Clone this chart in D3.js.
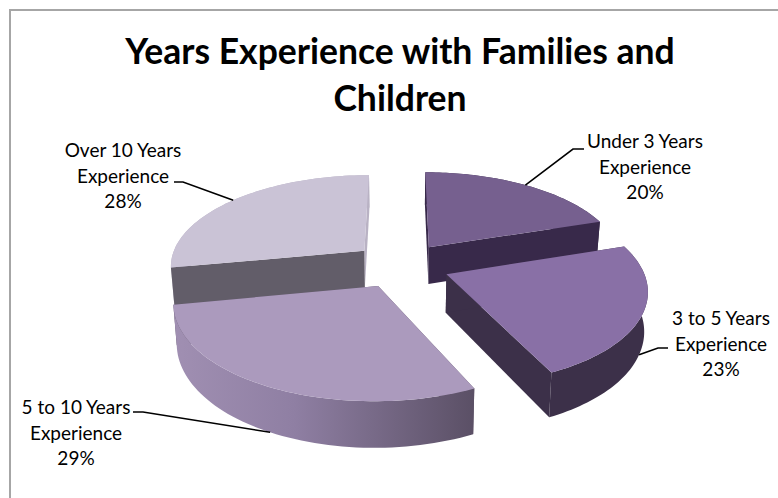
<!DOCTYPE html>
<html>
<head>
<meta charset="utf-8">
<script src="https://cdn.jsdelivr.net/npm/d3@7"></script>
<style>
  html, body { margin: 0; padding: 0; background: #fff; }
  svg { display: block; }
  text { font-family: Lato, "Open Sans", sans-serif; fill: #000; }
</style>
</head>
<body>
<svg id="chart" width="778" height="498"></svg>
<script>
const categories = ["Under 3 Years", "3 to 5 Years", "5 to 10 Years", "Over 10 Years"];
const shares = [20, 23, 29, 28];
const titleLines = ["Years Experience with Families and", "Children"];

const topColors = ["#76608f", "#8970a6", "#ab9abd", "#cac3d6"];
const wallColors = ["#38294a", "#3c3049", "#5f5468", "#625d69"];
const endWallColors = ["#38294a", "#3c3049", "#5f5468", "#b9b2c4"];

// Ground-plane camera: the pie lies on a unit disc, far side shrinks with w,
// and the underside tapers slightly towards the middle.
const centre = { x: 401, y: 265 };
const scaleX = 195, scaleY = 91, depth = 38, persp = 0.15, explode = 0.25, taper = 0.015;

function project(px, py, pz) {
  const w = 1 + persp * py;
  return [centre.x + scaleX * px / w * (1 + taper * pz), centre.y - (scaleY * py + depth * pz) / w];
}

const pie = d3.pie().value(d => d).sort(null);
const arcs = pie(shares);

function onSlice(d, angle, r, z) {
  const mid = (d.startAngle + d.endAngle) / 2;
  const ox = explode * Math.sin(mid), oy = explode * Math.cos(mid);
  return project(ox + r * Math.sin(angle), oy + r * Math.cos(angle), z);
}

function rimAngles(d) {
  return d3.range(0, 61).map(i => d.startAngle + (d.endAngle - d.startAngle) * i / 60);
}

const line = d3.line();
const svg = d3.select("#chart");

// Side shading of the largest front slice runs light to dark from left to right.
const defs = svg.append("defs");
const rimGrad = defs.append("linearGradient")
  .attr("id", "rimShade")
  .attr("gradientUnits", "userSpaceOnUse")
  .attr("x1", 175).attr("x2", 473).attr("y1", 0).attr("y2", 0);
rimGrad.append("stop").attr("offset", "0").attr("stop-color", "#a08fb2");
rimGrad.append("stop").attr("offset", "0.4").attr("stop-color", "#8f7fa3");
rimGrad.append("stop").attr("offset", "1").attr("stop-color", "#5b5066");

// The frame runs off the right and bottom of the page, so only two sides show.
svg.append("rect")
  .attr("x", 10).attr("y", 10).attr("width", 790).attr("height", 510)
  .attr("fill", "#fff").attr("stroke", "#a6a6a6").attr("stroke-width", 2);

// Back slices first so the nearer ones overlap them.
const paintOrder = [0, 3, 2, 1];
paintOrder.forEach(i => {
  const d = arcs[i];
  const g = svg.append("g").attr("class", "slice");
  const wall = i === 2 ? "url(#rimShade)" : endWallColors[i];
  const angles = rimAngles(d);
  const mid = (d.startAngle + d.endAngle) / 2;

  const paintRim = () => {
    const rim = angles.map(a => onSlice(d, a, 1, 0))
      .concat(angles.slice().reverse().map(a => onSlice(d, a, 1, -1)));
    g.append("path").attr("d", line(rim) + "Z").attr("fill", wall);
  };
  const paintCuts = () => {
    const cutWall = a => [onSlice(d, a, 0, 0), onSlice(d, a, 1, 0), onSlice(d, a, 1, -1), onSlice(d, a, 0, -1)];
    g.append("path").attr("d", line(cutWall(d.endAngle)) + "Z").attr("fill", endWallColors[i]);
    g.append("path").attr("d", line(cutWall(d.startAngle)) + "Z").attr("fill", wallColors[i]);
  };

  // A rim on the far side sits behind the cut faces; a near rim sits in front.
  if (Math.cos(mid) > 0) { paintRim(); paintCuts(); } else { paintCuts(); paintRim(); }

  const top = [onSlice(d, 0, 0, 0)].concat(angles.map(a => onSlice(d, a, 1, 0)));
  g.append("path").attr("d", line(top) + "Z").attr("fill", topColors[i]);
});

// Leader lines start on the mid-angle of each slice, on the top edge or the rim.
const leaderDrop = [0, -1, -1, 0];
const elbows = [[[573, 149], [584, 149]], [[658, 348], [668, 348]], [[143, 412], [133, 412]], [[183, 182], [174, 182]]];
arcs.forEach((d, i) => {
  const mid = (d.startAngle + d.endAngle) / 2;
  const anchor = onSlice(d, mid, 1, leaderDrop[i]);
  svg.append("path").attr("d", line([anchor].concat(elbows[i])))
    .attr("fill", "none").attr("stroke", "#000").attr("stroke-width", 1.6);
});

// Category labels, three centred lines each.
const labelAnchors = [[645, 148], [721, 325], [76, 414], [123, 157]];
arcs.forEach((d, i) => {
  const t = svg.append("text").attr("text-anchor", "middle").attr("font-size", 19);
  [categories[i], "Experience", shares[i] + "%"].forEach((s, k) => {
    t.append("tspan").attr("x", labelAnchors[i][0]).attr("y", labelAnchors[i][1] + k * 25.5).text(s);
  });
});

titleLines.forEach((s, k) => {
  svg.append("text").attr("x", 400).attr("y", 64 + k * 46.5)
    .attr("text-anchor", "middle").attr("font-size", 35.5).attr("font-weight", 700).text(s);
});
</script>
</body>
</html>
